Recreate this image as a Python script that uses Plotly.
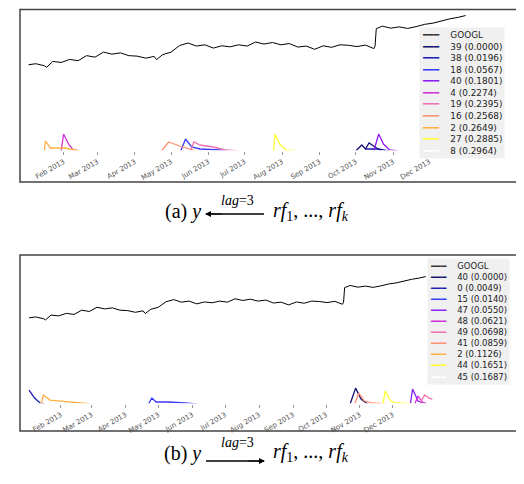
import plotly.graph_objects as go

# GOOGL closing price, roughly weekly, 2013 (shared by both panels)
price_dates = ["2013-01-03", "2013-01-09", "2013-01-16", "2013-01-18", "2013-01-23", "2013-01-30",
               "2013-02-06", "2013-02-13", "2013-02-20", "2013-02-27", "2013-03-06", "2013-03-13",
               "2013-03-20", "2013-03-27", "2013-04-03", "2013-04-10", "2013-04-17", "2013-04-19",
               "2013-04-24", "2013-05-01", "2013-05-08", "2013-05-15", "2013-05-22", "2013-05-29",
               "2013-06-05", "2013-06-12", "2013-06-19", "2013-06-26", "2013-07-03", "2013-07-10",
               "2013-07-17", "2013-07-24", "2013-07-31", "2013-08-07", "2013-08-14", "2013-08-21",
               "2013-08-28", "2013-09-04", "2013-09-11", "2013-09-18", "2013-09-25", "2013-10-02",
               "2013-10-09", "2013-10-16", "2013-10-17", "2013-10-18", "2013-10-23", "2013-10-30",
               "2013-11-06", "2013-11-13", "2013-11-20", "2013-11-27", "2013-12-04", "2013-12-11",
               "2013-12-18", "2013-12-25", "2013-12-31"]
price_values = [362, 366, 358, 352, 375, 371, 383, 378, 398, 392, 412, 404,
                409, 398, 396, 388, 395, 382, 402, 412, 438, 448, 436, 441,
                428, 437, 433, 441, 436, 452, 444, 450, 441, 446, 432, 436,
                423, 437, 431, 441, 439, 434, 440, 426, 436, 505, 515, 507,
                512, 506, 513, 522, 527, 536, 544, 550, 557]

# panel (a): y <- rf_1..rf_k  (label, colour, dates, heights)
series_a = [
    ("39 (0.0000)", "#10106e", ["2013-10-01", "2013-10-06", "2013-10-09", "2013-10-12", "2013-10-17", "2013-10-22"], [0, 6, 2, 8, 4, 0]),
    ("38 (0.0196)", "#1818b0", ["2013-10-09", "2013-10-20", "2013-10-28"], [2, 2, 0]),
    ("18 (0.0567)", "#3a3af5", ["2013-05-09", "2013-05-13", "2013-05-18", "2013-05-25", "2013-06-10", "2013-06-20"], [0, 12, 4, 2, 1, 0]),
    ("40 (0.1801)", "#8a1af5", ["2013-10-16", "2013-10-20", "2013-10-24", "2013-10-29", "2013-11-05"], [0, 17, 7, 1, 0]),
    ("4 (0.2274)", "#d030d8", ["2013-01-30", "2013-02-01", "2013-02-05", "2013-02-09", "2013-02-15"], [0, 17, 7, 1, 0]),
    ("19 (0.2395)", "#f070b0", ["2013-05-17", "2013-05-20", "2013-05-25", "2013-06-05", "2013-06-15", "2013-06-25"], [0, 9, 6, 4, 1, 0]),
    ("16 (0.2568)", "#ff9070", ["2013-04-23", "2013-04-29", "2013-05-08", "2013-05-16", "2013-05-22"], [0, 9, 5, 2, 0]),
    ("2 (0.2649)", "#ffb040", ["2013-01-16", "2013-01-17", "2013-01-21", "2013-02-02", "2013-02-15"], [0, 10, 3, 3, 0]),
    ("27 (0.2885)", "#ffff30", ["2013-07-25", "2013-07-26", "2013-07-30", "2013-08-04", "2013-08-12"], [0, 17, 7, 1, 0]),
    ("8 (0.2964)", "#ffffff", ["2013-01-03", "2013-12-31"], [0, 0]),
]

# panel (b): y -> rf_1..rf_k
series_b = [
    ("40 (0.0000)", "#10106e", ["2013-10-23", "2013-10-28", "2013-11-02", "2013-11-08"], [0, 16, 5, 0]),
    ("0 (0.0049)", "#1818b0", ["2013-01-03", "2013-01-08", "2013-01-13", "2013-01-17"], [14, 6, 1, 0]),
    ("15 (0.0140)", "#3a3af5", ["2013-04-22", "2013-04-25", "2013-04-29", "2013-05-10", "2013-05-25", "2013-06-05"], [0, 6, 2, 2, 1, 0]),
    ("47 (0.0550)", "#8a1af5", ["2013-12-17", "2013-12-19", "2013-12-24", "2013-12-28"], [0, 15, 3, 1]),
    ("48 (0.0621)", "#d030d8", ["2013-12-21", "2013-12-24", "2013-12-28", "2013-12-31"], [0, 8, 2, 1]),
    ("49 (0.0698)", "#f070b0", ["2013-12-26", "2013-12-30", "2014-01-03", "2014-01-06"], [1, 9, 6, 5]),
    ("41 (0.0859)", "#ff9070", ["2013-10-27", "2013-10-31", "2013-11-05", "2013-11-12", "2013-11-25"], [0, 11, 3, 1, 0]),
    ("2 (0.1126)", "#ffb040", ["2013-01-14", "2013-01-16", "2013-01-22", "2013-02-10", "2013-03-01"], [0, 9, 4, 2, 0]),
    ("44 (0.1651)", "#ffff30", ["2013-11-22", "2013-11-24", "2013-11-29", "2013-12-04", "2013-12-20"], [0, 13, 3, 1, 0]),
    ("45 (0.1687)", "#ffffff", ["2013-01-03", "2013-12-31"], [0, 0]),
]

month_ticks = ["2013-%02d-01" % m for m in range(2, 13)]
month_labels = ["%s 2013" % m for m in ["Feb", "Mar", "Apr", "May", "Jun", "Jul", "Aug", "Sep", "Oct", "Nov", "Dec"]]

W, H = 524, 484


def px_x(px):
    return px / W


def px_y(px):
    return 1 - px / H


fig = go.Figure()

for series, xa, ya, ya_sp in [(series_a, "x", "y", "y3"), (series_b, "x2", "y2", "y4")]:
    fig.add_trace(go.Scatter(x=price_dates, y=price_values, mode="lines", name="GOOGL",
                             line=dict(color="black", width=1), xaxis=xa, yaxis=ya))
    for name, color, d, v in series:
        fig.add_trace(go.Scatter(x=d, y=v, mode="lines", name=name, line=dict(color=color, width=1.3),
                                 xaxis=xa, yaxis=ya_sp))


def legend_text(series):
    rows = ["<span style='color:#333'>━━━</span>    GOOGL"]
    for name, color, _, _ in series:
        rows.append("<span style='color:%s'>━━━</span>    %s" % (color, name))
    return "<br>".join(rows)


xcommon = dict(tickvals=month_ticks, ticktext=month_labels, tickangle=-30, showgrid=False,
               zeroline=False, showline=False, ticks="outside", ticklen=3, tickcolor="#999",
               tickfont=dict(family="DejaVu Sans", size=7, color="#555"))
ycommon = dict(visible=False, showgrid=False, zeroline=False)

shapes = [
    dict(type="rect", xref="paper", yref="paper", x0=px_x(12), x1=1.02, y0=px_y(174), y1=px_y(1.5),
         line=dict(color="#444", width=1.5)),
    dict(type="rect", xref="paper", yref="paper", x0=px_x(12), x1=1.02, y0=px_y(423), y1=px_y(247),
         line=dict(color="#444", width=1.5)),
]

serif = dict(family="Liberation Serif", size=20, color="black")
lagfont = dict(family="Liberation Serif", size=14, color="black")
captions = [("(a)", 204, 192, 206, True), ("(b)", 459, 444, 453, False)]
for tag, cy, lag_y, arrow_y, left_arrow in captions:
    shapes.append(dict(type="line", xref="paper", yref="paper", x0=px_x(198), x1=px_x(256),
                       y0=px_y(arrow_y), y1=px_y(arrow_y), line=dict(color="black", width=1.5)))

fig.update_layout(
    width=W, height=H, margin=dict(l=0, r=0, t=0, b=0),
    plot_bgcolor="white", paper_bgcolor="white", showlegend=False,
    xaxis=dict(domain=[px_x(20), 1], range=["2013-01-02 12:00", "2014-02-24"], anchor="y", **xcommon),
    xaxis2=dict(domain=[px_x(20), 1], range=["2013-01-02", "2014-04-07"], anchor="y2", **xcommon),
    yaxis=dict(domain=[px_y(143), px_y(3)], range=[20, 575], anchor="x", **ycommon),
    yaxis2=dict(domain=[px_y(396), px_y(250)], range=[-46, 645], anchor="x2", **ycommon),
    yaxis3=dict(overlaying="y", range=[0, 140], **ycommon),
    yaxis4=dict(overlaying="y2", range=[0, 147], **ycommon),
    shapes=shapes,
)

legfont = dict(family="DejaVu Sans", size=8.9, color="#222")
fig.add_annotation(x=px_x(411), y=px_y(19), xref="paper", yref="paper", xanchor="left", yanchor="top",
                   align="left", showarrow=False, bgcolor="#f0f0f0", borderpad=2, font=legfont,
                   text=legend_text(series_a))
fig.add_annotation(x=px_x(419), y=px_y(250), xref="paper", yref="paper", xanchor="left", yanchor="top",
                   align="left", showarrow=False, bgcolor="#f0f0f0", borderpad=2,
                   font=dict(family="DejaVu Sans", size=8.5, color="#222"),
                   text=legend_text(series_b))

for tag, cy, lag_y, arrow_y, left_arrow in captions:
    fig.add_annotation(x=px_x(195), y=px_y(cy), xref="paper", yref="paper", xanchor="right",
                       showarrow=False, font=serif, text="%s <i>y</i>" % tag)
    fig.add_annotation(x=px_x(263), y=px_y(cy), xref="paper", yref="paper", xanchor="left",
                       showarrow=False, font=serif,
                       text="<i>rf</i><sub>1</sub>, ..., <i>rf</i><sub><i>k</i></sub>")
    fig.add_annotation(x=px_x(229), y=px_y(lag_y), xref="paper", yref="paper", showarrow=False,
                       font=lagfont, text="<i>lag</i>=3")
    head, tail = (197, 215) if left_arrow else (257, 239)
    fig.add_annotation(x=px_x(head), y=px_y(arrow_y), xref="paper", yref="paper", showarrow=True,
                       ax=tail - head, ay=0, arrowhead=2, arrowsize=1, arrowwidth=1.2, arrowcolor="black",
                       standoff=0, startstandoff=0, text="")

fig.write_html("out.html")
